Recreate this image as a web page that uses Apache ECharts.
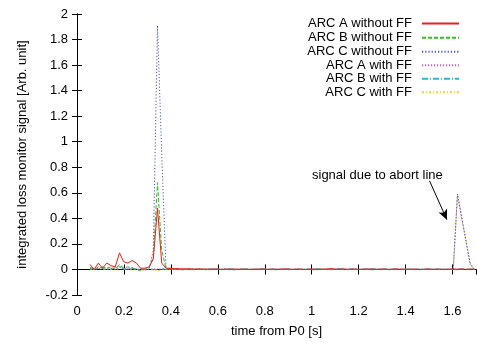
<!DOCTYPE html>
<html><head><meta charset="utf-8">
<script src="https://cdn.jsdelivr.net/npm/echarts@6/dist/echarts.min.js"></script>
<style>html,body{margin:0;padding:0;background:#fff}#c{width:477px;height:343px}</style>
</head><body><div id="c"></div>
<script>
const times = [0.055,0.073,0.091,0.109,0.127,0.145,0.163,0.181,0.199,0.217,0.235,0.253,0.271,0.289,0.307,0.325,0.343,0.361,0.379,0.397,
0.415,0.433,0.451,0.469,0.487,0.505,0.523,0.541,0.559,0.577,0.595,0.613,0.631,0.649,0.667,0.685,0.703,0.721,0.739,0.757,
0.775,0.793,0.811,0.829,0.847,0.865,0.883,0.901,0.919,0.937,0.955,0.973,0.991,1.009,1.027,1.045,1.063,1.081,1.099,1.117,
1.135,1.153,1.171,1.189,1.207,1.225,1.243,1.261,1.279,1.297,1.315,1.333,1.351,1.369,1.387,1.405,1.423,1.441,1.459,1.477,
1.495,1.513,1.531,1.549,1.567,1.585,1.603,1.621,1.639,1.657,1.675,1.693];

const arcA_noFF = [0.04,0.0,0.05,0.01,0.05,0.03,0.02,0.13,0.06,0.05,0.07,0.05,0.01,0.01,0.02,0.08,0.48,0.05,0.01,
0.01,0.008,0.006,0.005,0.004,0.005,0.003,0.004,0.002,0.003,
0.004,0.002,0.0,0.003,0.002,0.004,0.001,0.003,0.002,0.0,
0.003,0.002,0.004,0.001,0.003,0.0,0.002,0.004,0.003,0.001,
0.002,0.003,0.0,0.002,0.004,0.001,0.003,0.002,0.008,0.003,
0.002,0.004,0.001,0.003,0.002,0.0,0.003,0.004,0.002,0.001,
0.003,0.002,0.0,0.004,0.002,0.003,0.001,0.002,0.003,0.0,
0.002,0.004,0.001,0.003,0.002,0.001,0.002,
0.003,0.002,0.004,0.001,0.003,0.002];

const arcB_noFF = [0.01,0.0,0.02,0.01,0.01,0.02,0.0,0.04,0.01,0.02,0.01,0.0,-0.01,0.0,0.01,0.1,0.68,0.15,0.01,
0.005,0.003,0.0,-0.003,0.002,0.0,-0.002,0.003,0.0,-0.004,
0.001,0.003,-0.002,0.0,0.002,-0.003,0.001,0.0,0.003,-0.002,
0.0,0.002,-0.001,0.003,0.0,-0.003,0.002,0.001,-0.002,0.0,
0.003,-0.001,0.0,0.002,-0.003,0.001,0.0,0.002,-0.002,0.001,
0.0,0.003,-0.002,0.001,0.0,-0.001,0.002,0.0,-0.003,0.001,
0.002,0.0,-0.002,0.001,0.003,0.0,-0.001,0.002,0.0,-0.002,
0.001,0.0,0.002,-0.001,0.0,0.001,0.0,
0.0,-0.002,0.001,0.0,0.002,0.0];

const arcC_noFF = [0.0,0.01,0.0,0.01,-0.005,0.01,0.0,0.02,0.005,0.0,0.01,0.0,0.0,0.005,0.0,0.15,1.91,0.9,0.01,
0.003,0.0,0.002,-0.002,0.001,0.0,0.003,-0.001,0.0,0.002,
-0.002,0.0,0.001,0.003,0.0,-0.002,0.001,0.0,0.002,-0.001,
0.0,0.003,0.0,-0.002,0.001,0.002,0.0,-0.001,0.003,0.0,
-0.002,0.001,0.0,0.002,0.0,-0.003,0.001,0.002,0.0,-0.001,
0.002,0.0,0.001,-0.002,0.003,0.0,0.001,-0.001,0.002,0.0,
-0.002,0.001,0.003,0.0,-0.001,0.002,0.0,0.001,-0.002,0.0,
0.002,0.001,-0.001,0.0,0.002,0.0,0.001,
0.0,0.59,0.41,0.23,0.05,0.0];

const arcA_FF = [0.01,0.0,0.005,0.01,0.0,0.005,0.01,0.02,0.0,0.005,0.0,0.01,0.0,-0.005,0.0,0.005,0.005,0.0,0.0,
0.002,-0.001,0.0,0.003,0.001,-0.002,0.0,0.002,0.004,0.0,
-0.001,0.002,0.0,0.001,-0.003,0.0,0.002,0.001,0.0,0.003,
0.0,-0.002,0.001,0.0,0.002,0.004,0.0,-0.001,0.002,0.0,
0.001,0.0,-0.002,0.003,0.0,0.001,0.002,-0.001,0.0,0.002,
0.0,0.001,0.004,0.0,-0.002,0.001,0.0,0.002,0.0,0.003,
0.001,0.0,-0.001,0.002,0.0,0.001,0.003,0.0,-0.002,0.001,
0.0,0.002,0.0,0.001,-0.001,0.0,0.002,
0.0,0.58,0.4,0.22,0.04,0.0];

const arcB_FF = [0.02,0.0,0.01,0.02,0.01,0.0,0.015,0.03,0.01,0.0,0.015,0.0,0.005,0.0,0.01,0.0,0.0,0.01,0.0,
0.004,0.002,0.005,0.0,0.003,0.006,0.001,0.004,0.002,0.0,
0.005,0.003,0.001,0.004,0.006,0.002,0.0,0.003,0.005,0.001,
0.004,0.002,0.006,0.0,0.003,0.001,0.005,0.002,0.004,0.0,
0.003,0.006,0.001,0.004,0.002,0.005,0.0,0.003,0.001,0.004,
0.006,0.002,0.0,0.005,0.003,0.001,0.004,0.002,0.006,0.0,
0.003,0.005,0.001,0.004,0.002,0.0,0.003,0.005,0.002,0.004,
0.001,0.003,0.0,0.004,0.002,0.005,0.001,
0.003,0.002,0.004,0.001,0.003,0.002];

const arcC_FF = [0.0,-0.005,0.01,0.0,0.005,0.0,-0.005,0.01,0.0,0.005,-0.005,0.0,0.0,0.0,0.005,-0.005,-0.01,0.0,0.005,
0.0,0.002,-0.002,0.001,0.0,-0.003,0.002,0.0,0.001,-0.001,
0.003,0.0,-0.002,0.001,0.0,0.002,-0.001,0.0,0.003,0.0,
-0.002,0.001,0.0,0.002,-0.003,0.0,0.001,0.002,0.0,-0.001,
0.0,0.002,0.001,-0.002,0.0,0.003,0.0,-0.001,0.002,0.0,
0.001,-0.002,0.0,0.002,0.001,0.0,-0.003,0.002,0.0,0.001,
0.0,-0.001,0.002,0.0,0.003,-0.002,0.0,0.001,0.002,0.0,
-0.001,0.0,0.002,0.001,0.0,-0.002,0.0,
0.0,0.59,0.42,0.22,0.05,0.0];

const seriesNames = ['ARC A without FF','ARC B without FF','ARC C without FF','ARC A with FF','ARC B with FF','ARC C with FF'];
const seriesData = [arcA_noFF, arcB_noFF, arcC_noFF, arcA_FF, arcB_FF, arcC_FF];
const colors = ['#ee1c1c','#33c022','#4655c4','#c466c4','#2fb4d0','#e0e028'];
const dashes = ['solid',[4,2],[1.2,2],[1.2,1.8],[6,2,1,2],[2,2,1,2]];

const FONT = 'Liberation Sans, Arial, Helvetica, sans-serif';
const chart = echarts.init(document.getElementById('c'));

const series = seriesNames.map((n,i)=>({
  name:n, type:'line', xAxisIndex:0, yAxisIndex:0,
  data: times.map((t,k)=>[t, seriesData[i][k]]),
  symbol:'none', showSymbol:false, z: 10 - i,
  lineStyle:{color:colors[i], width:1, type:dashes[i]},
  itemStyle:{color:colors[i]},
  animation:false
}));
series[0].markLine = {
  silent:true, symbol:['none','arrow'], symbolSize:[7,10],
  label:{show:false},
  lineStyle:{color:'#000', width:1, type:'solid'},
  data:[[{coord:[1.502,0.694]},{coord:[1.576,0.39]}]],
  animation:false
};

const legendTops = [24,38.3,52.3,65.7,79.3,92.7];
const legends = seriesNames.map((n,i)=>({
  data:[n], right:17, top:legendTops[i]-7, align:'right', orient:'vertical',
  itemWidth:37, itemHeight:14, padding:0, selectedMode:false,
  itemStyle:{opacity:0},
  textStyle:{fontFamily:FONT, fontSize:13, color:'#000', padding:[0,5,0,0]}
}));

const axisCommon = {
  axisLine:{show:true, lineStyle:{color:'#000', width:1}},
  axisTick:{show:true, inside:true, length:5, lineStyle:{color:'#000'}},
  splitLine:{show:false}
};

chart.setOption({
  animation:false,
  backgroundColor:'#fff',
  grid:{left:77, right:1, top:14, bottom:47, containLabel:false},
  legend:legends,
  xAxis:[
    Object.assign({type:'value', min:0, max:1.7, interval:0.2, position:'bottom',
      name:'time from P0 [s]', nameLocation:'middle', nameGap:30,
      nameTextStyle:{fontFamily:FONT, fontSize:13, color:'#000'},
      axisLabel:{fontFamily:FONT, fontSize:13, color:'#000', margin:10, showMaxLabel:false}}, axisCommon),
    Object.assign({type:'value', min:0, max:1.7, interval:0.2, position:'top',
      axisLabel:{show:false}}, axisCommon)
  ],
  yAxis:[
    Object.assign({type:'value', min:-0.2, max:2, interval:0.2, position:'left',
      name:'integrated loss monitor signal [Arb. unit]', nameLocation:'middle', nameGap:48,
      nameTextStyle:{fontFamily:FONT, fontSize:13, color:'#000'},
      axisLabel:{fontFamily:FONT, fontSize:13, color:'#000', margin:9}}, axisCommon),
    Object.assign({type:'value', min:-0.2, max:2, interval:0.2, position:'right',
      axisLabel:{show:false}}, axisCommon)
  ],
  graphic:[{type:'text', x:312, y:175, silent:true,
    style:{text:'signal due to abort line', font:'13px ' + FONT, fill:'#000', verticalAlign:'middle'}}],
  series:series
});
</script></body></html>
